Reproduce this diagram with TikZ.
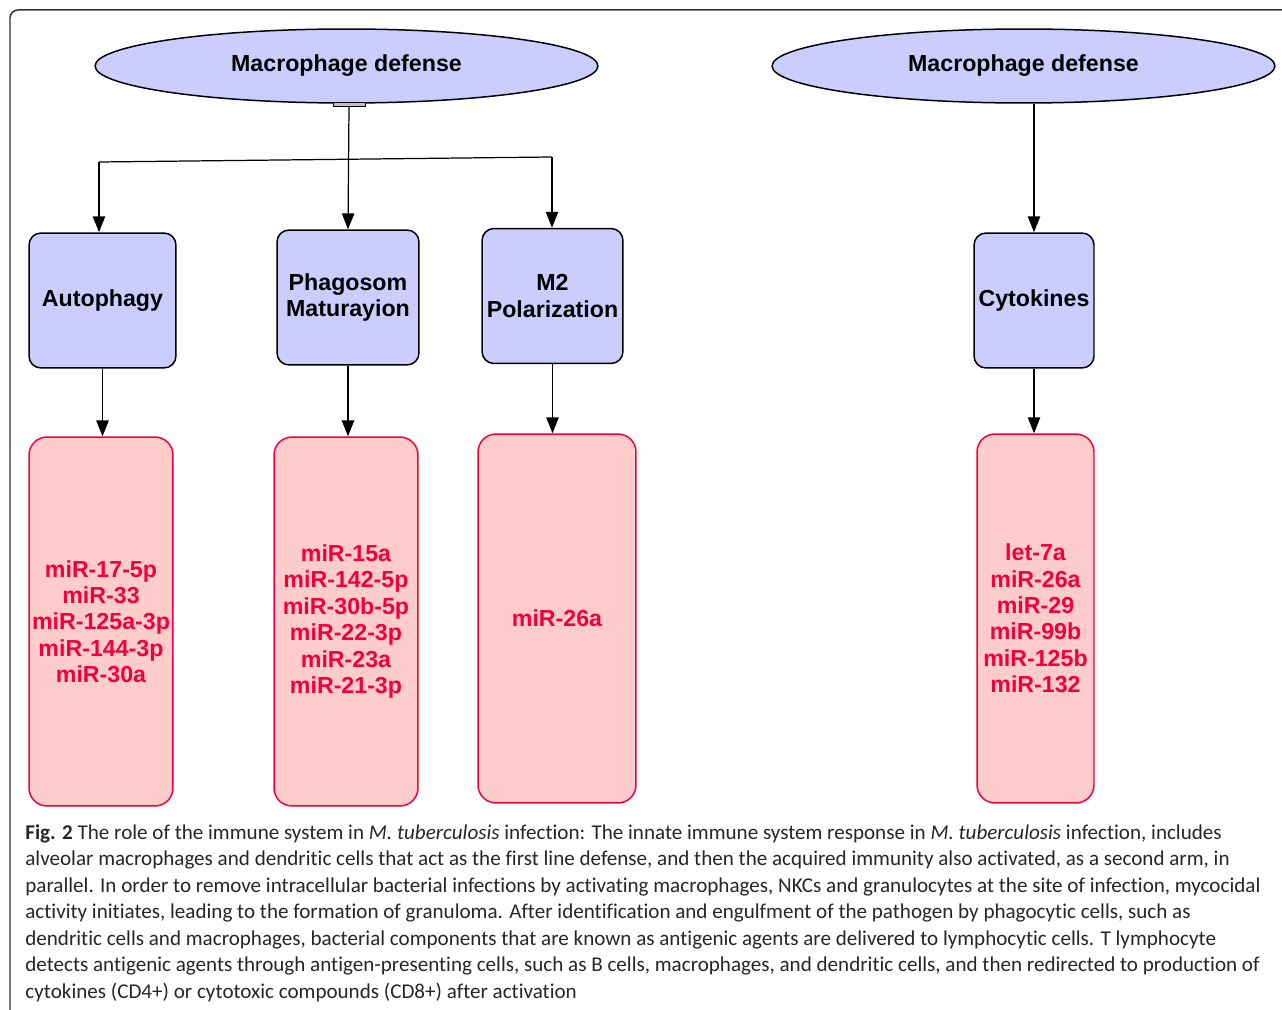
\documentclass[tikz,border=0pt]{standalone}
\usepackage{fontspec}
\setmainfont{Liberation Sans}
\newfontfamily\capfont[Ligatures=NoCommon]{Carlito}
\usetikzlibrary{shapes.geometric,arrows.meta}

\definecolor{lav}{RGB}{204,204,255}
\definecolor{pinkfill}{RGB}{255,204,204}
\definecolor{mirred}{RGB}{240,0,60}

\tikzset{
  defense/.style={ellipse, draw, line width=0.85pt, fill=lav, inner sep=0pt,
    minimum width=10.06cm, minimum height=1.48cm,
    font=\fontsize{13.2}{15}\selectfont\bfseries},
  process/.style={draw, line width=0.85pt, fill=lav, rounded corners=0.24cm,
    inner sep=0pt, minimum height=2.7cm, align=center,
    font=\fontsize{13.2}{15}\selectfont\bfseries},
  mirna/.style={draw=mirred, line width=0.85pt, fill=pinkfill, text=mirred,
    rounded corners=0.36cm, inner sep=0pt, minimum height=7.38cm, align=center,
    font=\fontsize{13.2}{15}\selectfont\bfseries},
  arr/.style={line width=0.7pt, -{Triangle[width=7pt,length=9pt]}}
}

\begin{document}
\begin{tikzpicture}[x=0.02cm, y=-0.02cm]
\useasboundingbox (0,0) rectangle (1282,1010);

% frame
\draw[line width=0.85pt, black!80, rounded corners=0.16cm] (1300,10) -- (10,10) -- (10,1016);

% top level
\node[defense] (md1) at (346.5,66) {Macrophage defense};
\node[defense] (md2) at (1023.5,66) {Macrophage defense};
\node[draw, fill=gray!50, line width=0.5pt, inner sep=0pt,
  minimum width=0.64cm, minimum height=0.08cm] (bar) at (349,104) {};

% processes
\node[process, minimum width=2.94cm] (auto) at (102.5,300.5) {Autophagy};
\node[process, minimum width=2.84cm] (phag) at (348,297.5) {Phagosom\\Maturayion};
\node[process, minimum width=2.82cm] (pol) at (552.5,296) {M2\\Polarization};
\node[process, minimum width=2.4cm] (cyto) at (1034,300.5) {Cytokines};

% miRNAs
\node[mirna, minimum width=2.88cm] (autom) at (101,621.5)
  {miR-17-5p\\miR-33\\miR-125a-3p\\miR-144-3p\\miR-30a};
\node[mirna, minimum width=2.88cm] (phagm) at (346,621.5)
  {miR-15a\\miR-142-5p\\miR-30b-5p\\miR-22-3p\\miR-23a\\miR-21-3p};
\node[mirna, minimum width=3.16cm] (polm) at (557,618.5) {miR-26a};
\node[mirna, minimum width=2.34cm] (cytom) at (1035.5,618.5)
  {let-7a\\miR-26a\\miR-29\\miR-99b\\miR-125b\\miR-132};

% connectors
\coordinate (hl) at (99,162);
\coordinate (hr) at (552,157);
\draw[line width=0.7pt] (hl) -- (hr);
\draw[arr] (bar.south) -- (phag.north);
\draw[arr] (hl) -- (hl |- auto.north);
\draw[arr] (hr) -- (hr |- pol.north);
\draw[arr] (md2.south -| cyto.north) -- (cyto.north);
\draw[arr] (auto.south) -- (auto.south |- autom.north);
\draw[arr] (phag.south) -- (phag.south |- phagm.north);
\draw[arr] (pol.south) -- (pol.south |- polm.north);
\draw[arr] (cyto.south) -- (cyto.south |- cytom.north);

% caption
\node[anchor=north west, align=left, inner sep=0pt, text=black!85,
  font=\capfont\fontsize{12}{15.1}\selectfont] (cap) at (25,824)
  {\textbf{Fig. 2} The role of the immune system in \textit{M. tuberculosis} infection: The innate immune system response in \textit{M. tuberculosis} infection, includes\\
  alveolar macrophages and dendritic cells that act as the first line defense, and then the acquired immunity also activated, as a second arm, in\\
  parallel. In order to remove intracellular bacterial infections by activating macrophages, NKCs and granulocytes at the site of infection, mycocidal\\
  activity initiates, leading to the formation of granuloma. After identification and engulfment of the pathogen by phagocytic cells, such as\\
  dendritic cells and macrophages, bacterial components that are known as antigenic agents are delivered to lymphocytic cells. T lymphocyte\\
  detects antigenic agents through antigen-presenting cells, such as B cells, macrophages, and dendritic cells, and then redirected to production of\\
  cytokines (CD4+) or cytotoxic compounds (CD8+) after activation};
\end{tikzpicture}
\end{document}
